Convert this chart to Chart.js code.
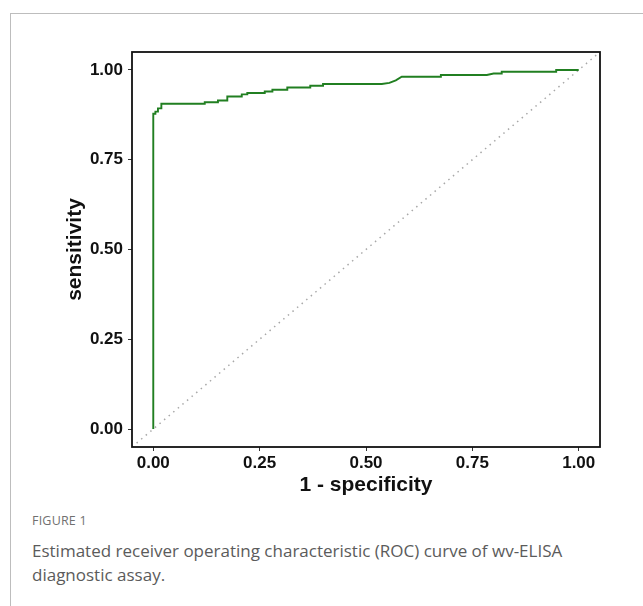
<!DOCTYPE html>
<html>
<head>
<meta charset="utf-8">
<script src="https://cdn.jsdelivr.net/npm/chart.js@4"></script>
<style>
  body { margin: 0; background: #fff; width: 643px; height: 606px; overflow: hidden; position: relative; }
  #frame { position: absolute; left: 10px; top: 13px; right: 0; bottom: 0; border-top: 1px solid #bdbdbd; border-left: 1px solid #bdbdbd; }
  #chart { position: absolute; left: 0; top: 0; }
  #figlabel { position: absolute; left: 32px; top: 512px; font-family: "Open Sans", sans-serif; font-size: 12.5px; color: #707070; letter-spacing: 0.2px; }
  #caption { position: absolute; left: 32px; top: 539px; width: 600px; font-family: "Open Sans", sans-serif; font-size: 17px; line-height: 24px; color: #5b5b5b; }
</style>
</head>
<body>
<div id="frame"></div>
<canvas id="chart" width="643" height="510"></canvas>
<div id="figlabel">FIGURE 1</div>
<div id="caption">Estimated receiver operating characteristic (ROC) curve of wv-ELISA diagnostic assay.</div>
<script>
// ROC curve vertices (1 - specificity, sensitivity)
const fpr = [0, 0, 0.005, 0.005, 0.011, 0.011, 0.019, 0.019, 0.121, 0.121, 0.152, 0.152, 0.174, 0.174,
  0.208, 0.208, 0.221, 0.221, 0.262, 0.262, 0.280, 0.280, 0.315, 0.315, 0.369, 0.369, 0.399, 0.399,
  0.537, 0.555, 0.570, 0.584, 0.676, 0.676, 0.784, 0.800, 0.819, 0.819, 0.947, 0.947, 1.0];
const tpr = [0, 0.878, 0.878, 0.884, 0.884, 0.893, 0.893, 0.906, 0.906, 0.910, 0.910, 0.915, 0.915, 0.926,
  0.926, 0.932, 0.932, 0.936, 0.936, 0.940, 0.940, 0.945, 0.945, 0.951, 0.951, 0.956, 0.956, 0.961,
  0.961, 0.964, 0.971, 0.981, 0.981, 0.986, 0.986, 0.990, 0.990, 0.995, 0.995, 1.0, 1.0];
// reference (chance) line
const refX = [-0.05, 1.05];
const refY = [-0.05, 1.05];
const xTicks = [0, 0.25, 0.5, 0.75, 1];
const yTicks = [0, 0.25, 0.5, 0.75, 1];

const boxPlugin = {
  id: 'panelBox',
  afterDraw(chart) {
    const a = chart.chartArea;
    const c = chart.ctx;
    c.save();
    c.strokeStyle = '#111';
    c.lineWidth = 1.8;
    c.strokeRect(a.left, a.top, a.right - a.left, a.bottom - a.top);
    c.restore();
  }
};

const tickFont = { family: '"Liberation Sans", Arial, sans-serif', size: 17, weight: 'bold' };
const titleFont = { family: '"Liberation Sans", Arial, sans-serif', size: 21, weight: 'bold' };

new Chart(document.getElementById('chart').getContext('2d'), {
  type: 'scatter',
  data: {
    datasets: [
      {
        data: fpr.map((x, i) => ({ x: x, y: tpr[i] })),
        showLine: true,
        borderColor: '#217f21',
        borderWidth: 1.9,
        pointRadius: 0,
        order: 0
      },
      {
        data: refX.map((x, i) => ({ x: x, y: refY[i] })),
        showLine: true,
        borderColor: '#a8a8a8',
        borderWidth: 1.5,
        borderDash: [1.5, 4.5],
        pointRadius: 0,
        order: 1
      }
    ]
  },
  options: {
    responsive: false,
    animation: false,
    layout: { padding: { left: 0, top: 52, right: 43, bottom: 0 } },
    plugins: { legend: { display: false }, tooltip: { enabled: false } },
    scales: {
      x: {
        type: 'linear',
        min: -0.05,
        max: 1.05,
        afterBuildTicks: s => { s.ticks = xTicks.map(v => ({ value: v })); },
        afterFit: s => { s.height = 63; },
        grid: { display: true, drawOnChartArea: false, drawTicks: true, tickLength: 4, color: '#333', lineWidth: 1 },
        border: { display: false },
        ticks: { color: '#111', font: tickFont, padding: 2, maxRotation: 0, callback: v => v.toFixed(2) },
        title: { display: true, text: '1 - specificity', color: '#111', font: titleFont, padding: { top: 0, bottom: 12 } }
      },
      y: {
        type: 'linear',
        min: -0.05,
        max: 1.05,
        afterBuildTicks: s => { s.ticks = yTicks.map(v => ({ value: v })); },
        afterFit: s => { s.width = 132; },
        grid: { display: true, drawOnChartArea: false, drawTicks: true, tickLength: 4, color: '#333', lineWidth: 1 },
        border: { display: false },
        ticks: { color: '#111', font: tickFont, padding: 5, callback: v => v.toFixed(2) },
        title: { display: true, text: 'sensitivity', color: '#111', font: titleFont, padding: { top: 63, bottom: 0 } }
      }
    }
  },
  plugins: [boxPlugin]
});
</script>
</body>
</html>
